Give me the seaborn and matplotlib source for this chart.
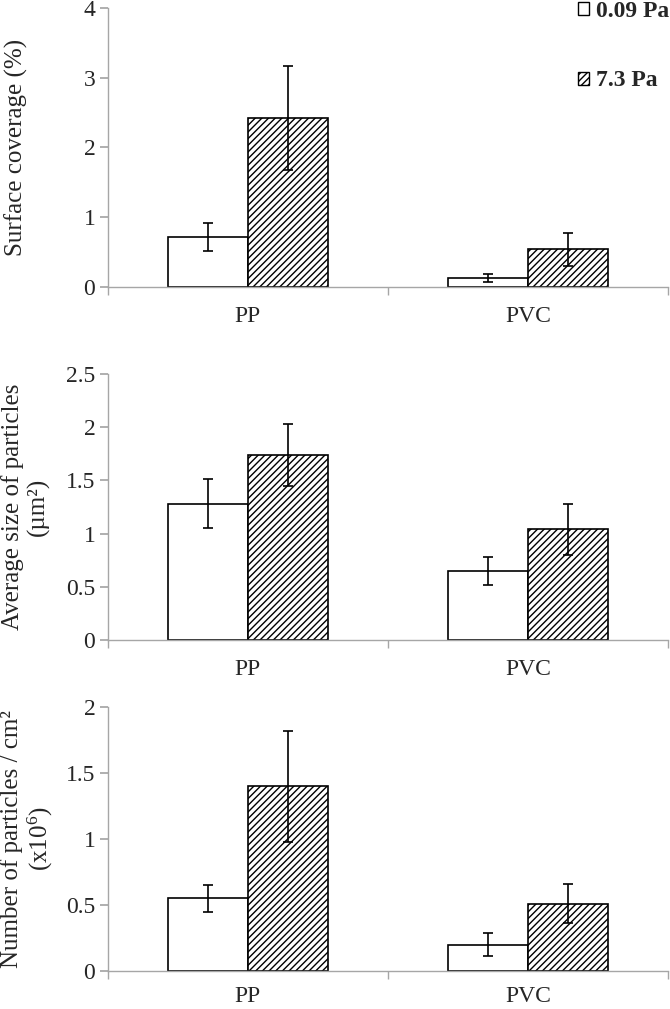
import numpy as np
import pandas as pd
import matplotlib
matplotlib.use("Agg")
import matplotlib.pyplot as plt
import seaborn as sns
from matplotlib.patches import Patch

# data
materials = ["PP", "PVC"]
stress_levels = ["0.09 Pa", "7.3 Pa"]

coverage_low = [0.72, 0.13]
coverage_high = [2.42, 0.54]
coverage_low_err = [0.20, 0.06]
coverage_high_err = [0.75, 0.24]

size_low = [1.28, 0.65]
size_high = [1.74, 1.04]
size_low_err = [0.23, 0.13]
size_high_err = [0.29, 0.24]

count_low = [0.55, 0.20]
count_high = [1.40, 0.51]
count_low_err = [0.105, 0.085]
count_high_err = [0.42, 0.15]

sns.set_theme(style="white")
plt.rcParams['font.family'] = ['Liberation Serif', 'DejaVu Serif']
plt.rcParams['mathtext.fontset'] = 'custom'
plt.rcParams['mathtext.rm'] = 'Liberation Serif'
plt.rcParams['hatch.linewidth'] = 1.0
plt.rcParams['hatch.color'] = 'black'

fig = plt.figure(figsize=(6.7, 10.09), dpi=100)
left, width = 0.161, 0.836
ax1 = fig.add_axes([left, 0.7156, width, 0.2765])
ax2 = fig.add_axes([left, 0.3657, width, 0.2636])
ax3 = fig.add_axes([left, 0.0377, width, 0.2616])

# axis, values, errors, label, limits, ticks, label x, tick label pad
panels = [
    (ax1, coverage_low, coverage_high, coverage_low_err, coverage_high_err,
     "Surface coverage (%)", (0, 4), [0, 1, 2, 3, 4], ["0", "1", "2", "3", "4"], -0.143, 14),
    (ax2, size_low, size_high, size_low_err, size_high_err,
     "Average size of particles\n(µm²)", (0, 2.5), [0, 0.5, 1, 1.5, 2, 2.5],
     ["0", "0.5", "1", "1.5", "2", "2.5"], -0.104, 14),
    (ax3, count_low, count_high, count_low_err, count_high_err,
     "Number of particles / cm²\n(x10$\\mathregular{^6}$)", (0, 2), [0, 0.5, 1, 1.5, 2],
     ["0", "0.5", "1", "1.5", "2"], -0.094, 11),
]

grey = '#a6a6a6'
for ax, low, high, low_err, high_err, ylabel, ylim, yticks, yticklabels, lx, xpad in panels:
    df = pd.DataFrame({
        "material": materials * 2,
        "stress": [stress_levels[0]] * 2 + [stress_levels[1]] * 2,
        "value": list(low) + list(high),
    })
    sns.barplot(data=df, x="material", y="value", hue="stress", order=materials,
                hue_order=stress_levels, palette=["white", "white"], width=0.57,
                edgecolor="black", linewidth=1.2, errorbar=None, legend=False, ax=ax)
    errs = [low_err, high_err]
    bar_groups = list(ax.containers)
    for i, cont in enumerate(bar_groups):
        for bar, e in zip(cont.patches, errs[i]):
            if i == 1:
                bar.set_hatch("/////")
            xc = bar.get_x() + bar.get_width() / 2
            ax.errorbar(xc, bar.get_height(), yerr=e, color="black",
                        elinewidth=1.2, capsize=3.3, capthick=1.2, fmt="none")
    ax.set_xlim(-0.5, 1.5)
    ax.set_ylim(*ylim)
    ax.set_yticks(yticks)
    ax.set_yticklabels(yticklabels)
    ax.set_xlabel("")
    ax.set_ylabel(ylabel, fontsize=18, linespacing=1.12)
    ax.yaxis.set_label_coords(lx, 0.5)
    sns.despine(ax=ax)
    for s in ["left", "bottom"]:
        ax.spines[s].set_color(grey)
        ax.spines[s].set_linewidth(1.0)
    ax.set_xticks([-0.5, 0.5, 1.5], minor=True)
    ax.tick_params(axis="x", which="major", length=0, pad=xpad, labelsize=17)
    ax.tick_params(axis="x", which="minor", length=6, color=grey, direction="out", bottom=True)
    ax.tick_params(axis="y", length=6, color=grey, direction="out", left=True,
                   labelsize=17, pad=3)
    ax.set_facecolor("white")

handles = [Patch(facecolor="white", edgecolor="black", linewidth=1.0),
           Patch(facecolor="white", edgecolor="black", linewidth=1.0, hatch="/////")]
fig.legend(handles, stress_levels, loc="upper right", bbox_to_anchor=(0.999, 0.999),
           frameon=False, handlelength=0.47, handleheight=0.47, handletextpad=0.3,
           labelspacing=2.05, borderaxespad=0, borderpad=0,
           prop={"weight": "bold", "size": 17})

fig.savefig("out.png", dpi=100, facecolor="white")
